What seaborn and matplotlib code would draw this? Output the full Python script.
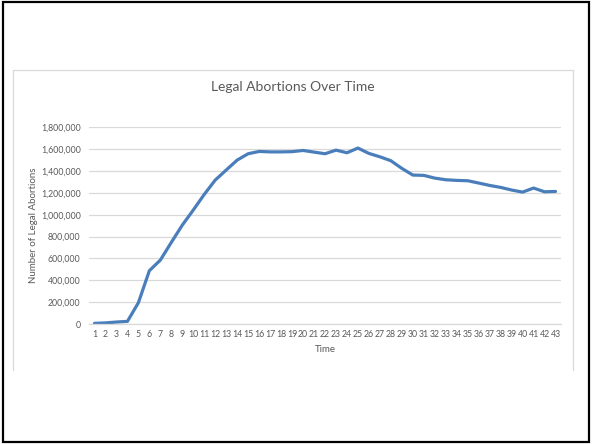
import matplotlib
matplotlib.use("Agg")
import matplotlib.pyplot as plt
import seaborn as sns
import pandas as pd
from matplotlib.patches import Rectangle
from matplotlib.lines import Line2D
from matplotlib.ticker import FuncFormatter

time_points = list(range(1, 44))
abortions = [
    6000, 10000, 18000, 24000, 195000, 488000, 585000, 747000, 905000, 1043000,
    1186000, 1317000, 1409000, 1500000, 1558000, 1579000, 1575000, 1575000, 1577000, 1588000,
    1573000, 1558000, 1591000, 1567000, 1610000, 1561000, 1530000, 1494000, 1424000, 1363000,
    1360000, 1335000, 1320000, 1314000, 1311000, 1290000, 1268000, 1250000, 1226000, 1207000,
    1244000, 1210000, 1213000,
]
y_ticks = list(range(0, 1800001, 200000))

df = pd.DataFrame({"Time": time_points, "Abortions": abortions})

sns.set_theme(style="white")
plt.rcParams["font.family"] = ["Lato", "DejaVu Sans"]

W, H = 592, 444
fig = plt.figure(figsize=(W / 100, H / 100), dpi=100)
fig.patch.set_facecolor("white")

def fx(px):
    return px / W

def fy(py):
    return 1 - py / H

# outer black frame
fig.add_artist(Rectangle((fx(2.5), fy(442)), fx(589) - fx(2.5), fy(2) - fy(442),
                         transform=fig.transFigure, fill=False, edgecolor="black",
                         linewidth=1.6, zorder=0))
# inner light chart frame (left, top, right)
gray = "#d9d9d9"
fig.add_artist(Line2D([fx(13), fx(13)], [fy(370), fy(70)], transform=fig.transFigure,
                      color=gray, linewidth=0.9))
fig.add_artist(Line2D([fx(13), fx(572.5)], [fy(70), fy(70)], transform=fig.transFigure,
                      color=gray, linewidth=0.9))
fig.add_artist(Line2D([fx(572.5), fx(572.5)], [fy(70), fy(370)], transform=fig.transFigure,
                      color=gray, linewidth=0.9))

left, right = 89, 561
top, bottom = 127.3, 324
ax = fig.add_axes([fx(left), fy(bottom), fx(right) - fx(left), fy(top) - fy(bottom)])

sns.lineplot(data=df, x="Time", y="Abortions", ax=ax, color="#4a7ebb",
             linewidth=2.3, solid_capstyle="round")

ax.set_xlim(0.5, 43.5)
ax.set_ylim(0, 1800000)
ax.set_yticks(y_ticks)
ax.yaxis.set_major_formatter(FuncFormatter(lambda v, p: f"{int(v):,}"))
ax.set_xticks(time_points)
ax.set_xticklabels([str(t) for t in time_points])

ax.grid(axis="y", color=gray, linewidth=0.9)
ax.grid(axis="x", visible=False)
for s in ["top", "right", "left"]:
    ax.spines[s].set_visible(False)
ax.spines["bottom"].set_color(gray)
ax.spines["bottom"].set_linewidth(0.9)
ax.set_axisbelow(True)

tick_color = "#595959"
ax.tick_params(axis="both", length=0, labelsize=6.3, labelcolor=tick_color)
ax.tick_params(axis="y", pad=6)
ax.tick_params(axis="x", pad=4)

ax.set_xlabel("Time", fontsize=7, color=tick_color, labelpad=5)
ax.set_ylabel("Number of Legal Abortions", fontsize=7, color=tick_color, labelpad=2)

fig.text(fx(293), fy(87), "Legal Abortions Over Time", ha="center", va="center",
         fontsize=10, color=tick_color)

fig.savefig("out.png", dpi=100, facecolor="white")
